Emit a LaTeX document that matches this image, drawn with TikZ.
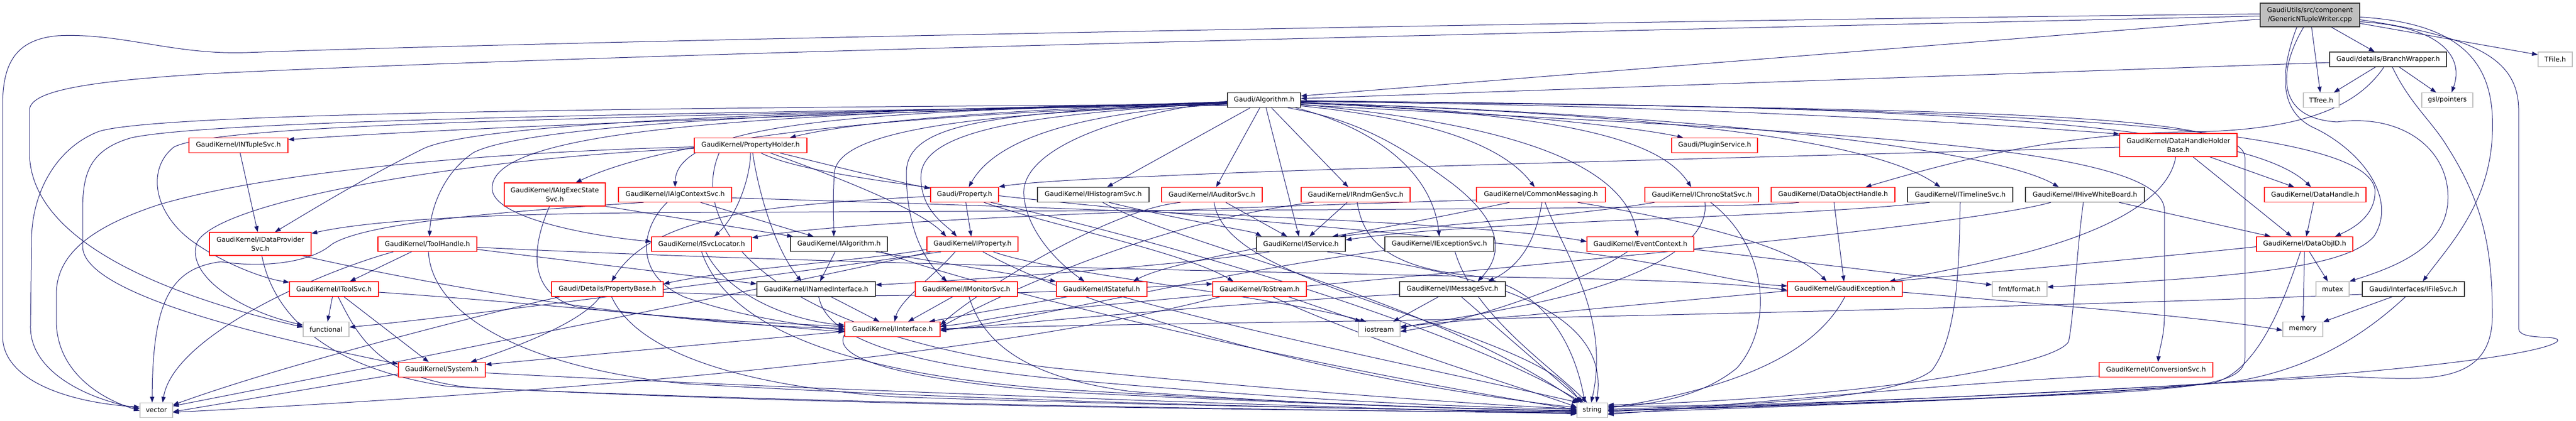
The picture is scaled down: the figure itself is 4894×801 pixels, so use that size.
\documentclass[tikz,border=0pt]{standalone}
\usepackage{fontspec}
\usetikzlibrary{arrows.meta}
\newfontfamily\nf{DejaVu Sans}
\newcommand{\nfont}{\nf\fontsize{12.6bp}{17.4bp}\selectfont}
\definecolor{ecol}{HTML}{191970}
\definecolor{rcol}{HTML}{FF0000}
\definecolor{gcol}{HTML}{BFBFBF}
\definecolor{kcol}{HTML}{333333}
\pgfdeclarelayer{paper}
\pgfdeclarelayer{edges}
\pgfsetlayers{paper,edges,main}
\tikzset{
  nb/.style={draw=kcol, fill=white, line width=1.2bp, inner sep=0pt, minimum height=28bp, font=\nfont, align=center},
  nr/.style={nb, draw=rcol},
  ng/.style={nb, draw=gcol},
  edg/.style={draw=ecol, line width=1bp, -{Triangle[length=11bp,width=8bp]}, fill=none},
}
\begin{document}
\begin{tikzpicture}[x=1bp,y=1bp]
\useasboundingbox (0,0) rectangle (4894,-801);
\begin{pgfonlayer}{paper}
\fill[white] (0,0) rectangle (4894,-801);
\end{pgfonlayer}
% ---------- nodes ----------
\node[nb, fill=gcol, minimum width=189bp, minimum height=45bp] (top) at (4388.5,-28.5) {GaudiUtils/src/component\\/GenericNTupleWriter.cpp};
\node[nb, minimum width=222bp] (bw) at (4537,-113) {Gaudi/details/BranchWrapper.h};
\node[ng, minimum width=65bp] (tfile) at (4854.5,-113) {TFile.h};
\node[nb, minimum width=139bp] (alg) at (2401.5,-190.5) {Gaudi/Algorithm.h};
\node[ng, minimum width=68bp] (ttree) at (4410,-190.5) {TTree.h};
\node[ng, minimum width=97bp] (gsl) at (4649.5,-190.5) {gsl/pointers};
\node[nr, minimum width=188bp] (ntuple) at (453,-276.5) {GaudiKernel/INTupleSvc.h};
\node[nr, minimum width=214bp] (pholder) at (1426,-276.5) {GaudiKernel/PropertyHolder.h};
\node[nr, minimum width=163bp] (plugin) at (3257.5,-276.5) {Gaudi/PluginService.h};
\node[nr, minimum width=223bp, minimum height=44bp] (dhhb) at (4138.5,-276) {GaudiKernel/DataHandleHolder\\Base.h};
\node[nr, minimum width=192bp, minimum height=44bp] (execstate) at (1054,-370) {GaudiKernel/IAlgExecState\\Svc.h};
\node[nr, minimum width=215bp] (ctxsvc) at (1282.5,-370.5) {GaudiKernel/IAlgContextSvc.h};
\node[nr, minimum width=129bp] (prop) at (1832.5,-370.5) {Gaudi/Property.h};
\node[nb, minimum width=212bp] (histo) at (2077,-370.5) {GaudiKernel/IHistogramSvc.h};
\node[nr, minimum width=191bp] (auditor) at (2302.5,-370.5) {GaudiKernel/IAuditorSvc.h};
\node[nr, minimum width=207bp] (rndm) at (2575.5,-370.5) {GaudiKernel/IRndmGenSvc.h};
\node[nr, minimum width=245bp] (commsg) at (2927.5,-370.5) {GaudiKernel/CommonMessaging.h};
\node[nr, minimum width=216bp] (chrono) at (3233,-370.5) {GaudiKernel/IChronoStatSvc.h};
\node[nr, minimum width=235bp] (doh) at (3482.5,-370.5) {GaudiKernel/DataObjectHandle.h};
\node[nb, minimum width=200bp] (timeline) at (3724,-370.5) {GaudiKernel/ITimelineSvc.h};
\node[nb, minimum width=226bp] (hive) at (3961,-370.5) {GaudiKernel/IHiveWhiteBoard.h};
\node[nr, minimum width=193bp] (dhandle) at (4398.5,-370.5) {GaudiKernel/DataHandle.h};
\node[nr, minimum width=193bp, minimum height=44bp] (dataprov) at (494.5,-464) {GaudiKernel/IDataProvider\\Svc.h};
\node[nr, minimum width=188bp] (toolhandle) at (812,-464.5) {GaudiKernel/ToolHandle.h};
\node[nr, minimum width=190bp] (svcloc) at (1333,-464.5) {GaudiKernel/ISvcLocator.h};
\node[nb, minimum width=184bp] (ialg) at (1594,-464.5) {GaudiKernel/IAlgorithm.h};
\node[nr, minimum width=173bp] (iprop) at (1847.5,-464.5) {GaudiKernel/IProperty.h};
\node[nb, minimum width=169bp] (iservice) at (2471.5,-464.5) {GaudiKernel/IService.h};
\node[nb, minimum width=207bp] (excsvc) at (2734.5,-464.5) {GaudiKernel/IExceptionSvc.h};
\node[nr, minimum width=203bp] (evctx) at (3116.5,-464.5) {GaudiKernel/EventContext.h};
\node[nr, minimum width=183bp] (dataobjid) at (4378.5,-464.5) {GaudiKernel/DataObjID.h};
\node[nr, minimum width=169bp] (toolsvc) at (634.5,-550) {GaudiKernel/IToolSvc.h};
\node[nr, minimum width=212bp] (propbase) at (1154,-550) {Gaudi/Details/PropertyBase.h};
\node[nb, minimum width=225bp] (inamed) at (1550.5,-550) {GaudiKernel/INamedInterface.h};
\node[nr, minimum width=194bp] (monitor) at (1836,-550) {GaudiKernel/IMonitorSvc.h};
\node[nr, minimum width=172bp] (stateful) at (2093,-550) {GaudiKernel/IStateful.h};
\node[nr, minimum width=178bp] (tostream) at (2393,-550) {GaudiKernel/ToStream.h};
\node[nb, minimum width=201bp] (msgsvc) at (2759.5,-550) {GaudiKernel/IMessageSvc.h};
\node[nr, minimum width=218bp] (gexc) at (3505,-550) {GaudiKernel/GaudiException.h};
\node[ng, minimum width=104bp] (fmt) at (3837,-550) {fmt/format.h};
\node[ng, minimum width=63bp] (mutex) at (4431.5,-550) {mutex};
\node[nb, minimum width=194bp] (ifilesvc) at (4585,-550) {Gaudi/Interfaces/IFileSvc.h};
\node[ng, minimum width=87bp] (functional) at (619.5,-626.5) {functional};
\node[nr, minimum width=181bp] (iinterface) at (1695.5,-626.5) {GaudiKernel/IInterface.h};
\node[ng, minimum width=79bp] (iostream) at (2620.5,-626.5) {iostream};
\node[ng, minimum width=76bp] (memory) at (4375,-626.5) {memory};
\node[nr, minimum width=165bp] (system) at (839.5,-703.5) {GaudiKernel/System.h};
\node[nr, minimum width=216bp] (convsvc) at (4096,-703.5) {GaudiKernel/IConversionSvc.h};
\node[ng, minimum width=62bp] (vector) at (297,-780.5) {vector};
\node[ng, minimum width=58bp] (string) at (3025,-780.5) {string};
\begin{pgfonlayer}{edges}
% ---------- edges from top ----------
\draw[edg] ([yshift=-8]top.west) -- ([yshift=8]alg.east);
\draw[edg] (top) -- (bw);
\draw[edg] (top) -- (ttree);
\draw[edg] ([yshift=-13]top.east) .. controls (4640,-50) and (4682,-110) .. ([xshift=8]gsl.north);
\draw[edg] ([yshift=-16]top.east) -- ([yshift=9]tfile.west);
\draw[edg] ([yshift=-4]top.east) .. controls (4700,-45) and (4740,-140) .. (4735,-255) .. controls (4730,-390) and (4650,-470) .. ([xshift=18]ifilesvc.north);
\draw[edg] ([xshift=-12]top.south) .. controls (4330,-130) and (4320,-225) .. (4440,-232) .. controls (4570,-215) and (4660,-290) .. (4650,-390) .. controls (4640,-470) and (4560,-505) .. (mutex.north east);
\draw[edg] ([xshift=-25]top.south) .. controls (4330,-140) and (4330,-215) .. (4400,-245) .. controls (4490,-290) and (4555,-380) .. (4510,-450) .. controls (4460,-505) and (4300,-525) .. ([yshift=4]fmt.east);
\draw[edg] ([yshift=-9]top.east) .. controls (4700,-70) and (4785,-110) .. (4785,-210) -- (4785,-625) .. controls (4785,-650) and (4870,-635) .. (4858,-650) .. controls (4820,-680) and (4400,-740) .. ([yshift=2]string.east);
\draw[edg] ([yshift=2]top.west) .. controls (3000,-40) and (1000,-80) .. (470,-100) .. controls (330,-105) and (230,-62) .. (110,-68) .. controls (30,-75) and (5,-120) .. (5,-200) -- (5,-640) .. controls (5,-720) and (120,-765) .. ([yshift=6]vector.west);
\draw[edg] ([yshift=-2]top.west) .. controls (3000,-60) and (1200,-100) .. (400,-140) .. controls (150,-155) and (56,-175) .. (56,-210) -- (56,-290) .. controls (56,-470) and (350,-570) .. ([yshift=4]functional.west);
% ---------- edges from BranchWrapper ----------
\draw[edg] ([yshift=-6]bw.west) -- ([yshift=3]alg.east);
\draw[edg] (bw) -- (ttree);
\draw[edg] (bw) -- (gsl);
\draw[edg] ([xshift=-8]bw.south) .. controls (4480,-200) and (4380,-250) .. (4150,-251) .. controls (3900,-255) and (3700,-310) .. ([xshift=62]doh.north);
\draw[edg] ([xshift=8]bw.south) .. controls (4580,-200) and (4620,-230) .. (4650,-280) .. controls (4720,-390) and (4735,-480) .. (4735,-600) .. controls (4735,-740) and (4600,-722) .. (4450,-716) .. controls (4200,-730) and (3500,-770) .. (string.east);
% ---------- edges from Algorithm ----------
\draw[edg] ([yshift=-3]alg.west) .. controls (1700,-215) and (1000,-235) .. ([yshift=11]ntuple.east);
\draw[edg] ([yshift=-5]alg.west) .. controls (2000,-205) and (1650,-225) .. ([xshift=75]pholder.north);
\draw[edg] ([yshift=-7]alg.west) .. controls (1800,-215) and (1300,-250) .. ([xshift=40]execstate.north);
\draw[edg] ([yshift=-6]alg.west) .. controls (1700,-210) and (1285,-225) .. (ctxsvc.north);
\draw[edg] ([yshift=-8]alg.west) .. controls (2100,-210) and (1900,-250) .. ([xshift=8]prop.north);
\draw[edg] (alg) -- (histo);
\draw[edg] (alg) -- (auditor);
\draw[edg] (alg) -- (rndm);
\draw[edg] (alg) -- (iservice);
\draw[edg] ([xshift=45]alg.south) .. controls (2560,-225) and (2640,-260) .. (2760,-350) .. controls (2850,-420) and (2860,-480) .. ([xshift=48]msgsvc.north);
\draw[edg] ([xshift=60]alg.south) .. controls (2600,-240) and (2720,-320) .. (excsvc.north);
\draw[edg] ([yshift=-11]alg.east) .. controls (2700,-225) and (2850,-270) .. ([xshift=-12]commsg.north);
\draw[edg] ([yshift=-8]alg.east) .. controls (2800,-230) and (3080,-290) .. ([xshift=-5]evctx.north);
\draw[edg] ([yshift=-6]alg.east) .. controls (2950,-215) and (3150,-260) .. ([xshift=-20]chrono.north);
\draw[edg] ([yshift=-4]alg.east) .. controls (2800,-210) and (3100,-240) .. ([xshift=-60]plugin.north);
\draw[edg] ([yshift=-5]alg.east) .. controls (3100,-215) and (3550,-260) .. ([xshift=-38]timeline.north);
\draw[edg] ([yshift=-5]alg.east) .. controls (3300,-220) and (3800,-290) .. ([xshift=-50]hive.north);
\draw[edg] ([yshift=-3]alg.east) .. controls (3300,-200) and (3900,-245) .. ([yshift=21]dhhb.west);
\draw[edg] ([yshift=-2]alg.east) .. controls (3500,-200) and (4250,-220) .. ([xshift=-8]dhandle.north);
\draw[edg] ([yshift=-1]alg.east) .. controls (3600,-205) and (4490,-220) .. (4512,-360) .. controls (4515,-410) and (4470,-435) .. ([xshift=58]dataobjid.north);
\draw[edg] ([yshift=-9]alg.east) .. controls (3400,-250) and (4112,-270) .. (4112,-400) -- (4112,-600) .. controls (4112,-640) and (4102,-665) .. ([xshift=4]convsvc.north);
\draw[edg] ([yshift=-1]alg.east) .. controls (3700,-210) and (4265,-210) .. (4265,-300) -- (4265,-680) .. controls (4265,-725) and (4200,-735) .. (4000,-748) .. controls (3500,-770) and (3200,-775) .. ([yshift=-3]string.east);
\draw[edg] ([yshift=-8]alg.west) .. controls (1200,-205) and (300,-215) .. (188,-250) .. controls (110,-280) and (63,-360) .. (60,-450) -- (58,-620) .. controls (56,-700) and (150,-755) .. ([yshift=3]vector.west);
\draw[edg] ([yshift=-10]alg.west) .. controls (1200,-215) and (400,-230) .. (250,-262) .. controls (170,-285) and (157,-330) .. (157,-400) -- (157,-470) .. controls (160,-560) and (500,-640) .. ([yshift=11]system.west);
\draw[edg] ([yshift=-4]alg.west) .. controls (1200,-225) and (420,-232) .. (330,-280) .. controls (280,-320) and (290,-400) .. (360,-455) .. controls (420,-500) and (500,-530) .. ([yshift=13]toolsvc.west);
\draw[edg] ([yshift=-6]alg.west) .. controls (1600,-210) and (900,-230) .. (800,-285) .. controls (690,-340) and (600,-395) .. ([xshift=28]dataprov.north);
\draw[edg] ([yshift=-5]alg.west) .. controls (1500,-210) and (1000,-240) .. (900,-290) .. controls (840,-330) and (818,-400) .. ([xshift=4]toolhandle.north);
\draw[edg] ([yshift=-6]alg.west) .. controls (1300,-215) and (930,-260) .. (935,-360) .. controls (940,-420) and (1150,-452) .. ([yshift=5]svcloc.west);
\draw[edg] ([yshift=-7]alg.west) .. controls (1900,-215) and (1590,-240) .. (1585,-330) .. controls (1582,-380) and (1584,-420) .. ([xshift=-10]ialg.north);
\draw[edg] ([yshift=-5]alg.west) .. controls (2000,-215) and (1760,-240) .. (1750,-330) .. controls (1745,-400) and (1800,-430) .. ([xshift=-30]iprop.north);
\draw[edg] ([yshift=-4]alg.west) .. controls (1900,-215) and (1720,-230) .. (1722,-330) .. controls (1722,-440) and (1760,-500) .. ([xshift=-37]monitor.north);
\draw[edg] ([yshift=-2]alg.west) .. controls (2100,-220) and (1940,-290) .. (1945,-370) .. controls (1950,-440) and (2010,-500) .. ([xshift=-33]stateful.north);
% ---------- PropertyHolder ----------
\draw[edg] ([yshift=-3]pholder.west) .. controls (900,-290) and (500,-330) .. (300,-390) .. controls (180,-430) and (107,-480) .. (107,-560) -- (107,-610) .. controls (107,-700) and (180,-755) .. ([yshift=-1]vector.west);
\draw[edg] ([yshift=-6]pholder.west) .. controls (900,-300) and (420,-380) .. (375,-460) .. controls (350,-520) and (450,-590) .. ([yshift=8]functional.west);
\draw[edg] (pholder.south) .. controls (1425,-340) and (1400,-410) .. ([xshift=24]svcloc.north);
\draw[edg] ([xshift=4]pholder.south) .. controls (1440,-360) and (1470,-470) .. ([xshift=-28]inamed.north);
\draw[edg] ([xshift=56]pholder.south) .. controls (1600,-320) and (1700,-345) .. ([yshift=12]prop.west);
\draw[edg] ([xshift=38]pholder.south) .. controls (1600,-340) and (1750,-400) .. ([xshift=-50]iprop.north);
\draw[edg] ([xshift=20]pholder.south) .. controls (1600,-370) and (2500,-420) .. (3000,-480) .. controls (3200,-505) and (3300,-540) .. ([yshift=6]gexc.west);
\draw[edg] ([xshift=-60]pholder.south) .. controls (1300,-450) and (1500,-640) .. (2000,-700) .. controls (2500,-750) and (2900,-775) .. ([yshift=3]string.west);
% ---------- IAlgExecStateSvc / IAlgContextSvc ----------
\draw[edg] (execstate.south east) -- ([xshift=-88]ialg.north);
\draw[edg] ([xshift=-10]execstate.south) .. controls (1010,-470) and (1000,-560) .. (1100,-585) .. controls (1300,-610) and (1500,-615) .. ([yshift=5]iinterface.west);
\draw[edg] (ctxsvc) -- (ialg);
\draw[edg] ([xshift=-15]ctxsvc.south) .. controls (1220,-430) and (1200,-520) .. (1300,-565) .. controls (1400,-600) and (1500,-615) .. ([yshift=-2]iinterface.west);
\draw[edg] ([xshift=-60]ctxsvc.south) .. controls (1000,-400) and (700,-420) .. (630,-465) .. controls (590,-500) and (500,-510) .. (420,-498) .. controls (320,-510) and (290,-580) .. ([xshift=-8]vector.north);
\draw[edg] ([yshift=-6]ctxsvc.east) .. controls (2000,-395) and (2800,-420) .. ([yshift=5]evctx.west);
% ---------- Property ----------
\draw[edg] (prop) -- (iprop);
\draw[edg] ([yshift=-3]prop.west) .. controls (1450,-390) and (1240,-410) .. ([xshift=8]propbase.north);
\draw[edg] ([xshift=37]prop.south) .. controls (2000,-430) and (2250,-480) .. ([xshift=-50]tostream.north);
\draw[edg] ([xshift=50]prop.south) .. controls (2300,-480) and (2800,-640) .. ([xshift=-20]string.north);
% ---------- services row ----------
\draw[edg] ([xshift=30]histo.south) .. controls (2250,-420) and (2380,-440) .. ([xshift=-75]iservice.north);
\draw[edg] ([xshift=18]histo.south) .. controls (2250,-470) and (2700,-560) .. ([xshift=-25]string.north);
\draw[edg] (auditor) -- (iservice);
\draw[edg] ([xshift=4]auditor.south) .. controls (2320,-470) and (2450,-520) .. (2650,-590) .. controls (2850,-660) and (2960,-700) .. ([xshift=-22]string.north);
\draw[edg] ([xshift=-60]auditor.south) .. controls (2100,-400) and (1850,-560) .. ([yshift=8]iinterface.east);
\draw[edg] (rndm) -- (iservice);
\draw[edg] ([xshift=3]rndm.south) .. controls (2590,-460) and (2640,-510) .. (2800,-525) .. controls (2930,-545) and (2990,-650) .. ([xshift=-14]string.north);
\draw[edg] ([xshift=-80]rndm.south) .. controls (2200,-420) and (1900,-560) .. ([yshift=4]iinterface.east);
\draw[edg] ([xshift=2]commsg.south) .. controls (2920,-440) and (2900,-500) .. ([xshift=68]msgsvc.north);
\draw[edg] ([xshift=8]commsg.south) .. controls (2970,-480) and (3060,-600) .. ([xshift=-2]string.north);
\draw[edg] ([xshift=-60]commsg.south) .. controls (2750,-410) and (2620,-435) .. ([xshift=60]iservice.north);
\draw[edg] ([yshift=-10]commsg.west) .. controls (2200,-400) and (1600,-420) .. ([yshift=12]svcloc.east);
\draw[edg] ([xshift=70]commsg.south) .. controls (3150,-410) and (3400,-460) .. ([xshift=-35]gexc.north);
\draw[edg] ([xshift=-90]chrono.south) .. controls (3000,-410) and (2700,-430) .. ([xshift=75]iservice.north);
\draw[edg] ([xshift=17]chrono.south) .. controls (3360,-470) and (3370,-620) .. (3300,-700) .. controls (3240,-750) and (3150,-770) .. ([yshift=6]string.east);
\draw[edg] ([xshift=6]chrono.south) .. controls (3250,-470) and (3100,-540) .. (2900,-580) .. controls (2780,-605) and (2700,-615) .. ([yshift=2]iostream.east);
\draw[edg] ([xshift=-65]doh.south) .. controls (3300,-400) and (2000,-400) .. (1200,-405) .. controls (900,-408) and (700,-420) .. ([yshift=20]dataprov.east);
\draw[edg] (doh) -- (gexc);
\draw[edg] ([xshift=-58]timeline.south) .. controls (3400,-415) and (2800,-420) .. ([yshift=8]iservice.east);
\draw[edg] (timeline.south) .. controls (3722,-500) and (3720,-640) .. (3670,-705) .. controls (3600,-760) and (3300,-775) .. ([yshift=8]string.east);
\draw[edg] (hive) -- (dataobjid);
\draw[edg] ([xshift=-3]hive.south) .. controls (3945,-480) and (3940,-600) .. (3930,-650) .. controls (3900,-700) and (3500,-760) .. ([yshift=10]string.east);
\draw[edg] ([xshift=-65]hive.south) .. controls (3700,-440) and (2500,-540) .. (2000,-590) .. controls (1900,-600) and (1850,-615) .. ([yshift=6]iinterface.east);
\draw[edg] (dhhb) -- ([xshift=-25]dataobjid.north);
\draw[edg] ([xshift=60]dhhb.south) -- ([xshift=-40]dhandle.north);
\draw[edg] ([xshift=-5]dhhb.south) .. controls (4120,-380) and (4000,-440) .. (3850,-480) .. controls (3720,-512) and (3640,-525) .. ([xshift=85]gexc.north);
\draw[edg] ([yshift=-4]dhhb.west) .. controls (3500,-295) and (2500,-320) .. (2200,-335) .. controls (2000,-343) and (1930,-350) .. ([yshift=15]prop.east);
\draw[edg] (dhandle) -- (dataobjid);
% ---------- DataObjID / IFileSvc ----------
\draw[edg] (dataobjid) -- (mutex);
\draw[edg] (dataobjid) -- (memory);
\draw[edg] ([yshift=-5]dataobjid.west) .. controls (4000,-500) and (3200,-570) .. (2900,-600) .. controls (2750,-612) and (2700,-618) .. ([yshift=5]iostream.east);
\draw[edg] ([xshift=-8]dataobjid.south) .. controls (4340,-570) and (4290,-710) .. (4200,-730) .. controls (3900,-760) and (3300,-775) .. ([yshift=-6]string.east);
\draw[edg] (ifilesvc) -- (memory);
\draw[edg] ([xshift=-15]ifilesvc.south) .. controls (4500,-630) and (4400,-700) .. (4250,-725) .. controls (3900,-760) and (3300,-775) .. ([yshift=-1]string.east);
\draw[edg] ([yshift=-10]ifilesvc.west) .. controls (4000,-580) and (3000,-605) .. (2500,-612) .. controls (2100,-618) and (1900,-622) .. ([yshift=1]iinterface.east);
% ---------- ToolHandle / IToolSvc ----------
\draw[edg] (toolhandle) -- (toolsvc);
\draw[edg] ([yshift=-10]toolhandle.east) -- ([yshift=10]inamed.west);
\draw[edg] ([yshift=-6]toolhandle.east) .. controls (1500,-500) and (2500,-520) .. (3000,-530) .. controls (3200,-535) and (3300,-540) .. ([yshift=-2]gexc.west);
\draw[edg] ([xshift=-65]toolhandle.south) .. controls (600,-520) and (330,-640) .. ([xshift=12]vector.north);
\draw[edg] ([xshift=2]toolhandle.south) .. controls (820,-600) and (1000,-700) .. (1300,-730) .. controls (2000,-770) and (2700,-780) .. ([yshift=-3]string.west);
\draw[edg] (toolsvc) -- (functional);
\draw[edg] (toolsvc) -- ([xshift=-25]system.north);
\draw[edg] ([yshift=-6]toolsvc.east) .. controls (1000,-575) and (1400,-615) .. ([yshift=-5]iinterface.west);
\draw[edg] ([xshift=8]toolsvc.south) .. controls (680,-640) and (720,-720) .. (900,-738) .. controls (1600,-770) and (2500,-780) .. ([yshift=-6]string.west);
% ---------- ISvcLocator / IAlgorithm / IProperty ----------
\draw[edg] ([xshift=8]svcloc.south) .. controls (1380,-560) and (1500,-610) .. ([yshift=8]iinterface.west);
\draw[edg] (svcloc.south) .. controls (1380,-620) and (1600,-710) .. (2000,-740) .. controls (2500,-770) and (2800,-778) .. ([yshift=-1]string.west);
\draw[edg] (ialg) -- (inamed);
\draw[edg] ([xshift=70]ialg.south) -- (stateful.north west);
\draw[edg] ([xshift=80]ialg.south) .. controls (1900,-560) and (2500,-700) .. ([yshift=1]string.west);
\draw[edg] ([xshift=-33]iprop.south) .. controls (1780,-520) and (1710,-570) .. ([xshift=4]iinterface.north);
\draw[edg] ([yshift=-10]iprop.west) .. controls (1650,-495) and (1400,-510) .. ([yshift=10]propbase.east);
\draw[edg] ([xshift=20]iprop.south) .. controls (2050,-580) and (2500,-720) .. ([yshift=5]string.west);
\draw[edg] ([xshift=-80]iprop.south) .. controls (1500,-540) and (700,-700) .. ([yshift=8]vector.east);
\draw[edg] ([xshift=-60]iprop.south) .. controls (1500,-520) and (900,-600) .. ([yshift=4]functional.east);
\draw[edg] ([xshift=40]iprop.south) .. controls (2000,-520) and (2400,-560) .. ([xshift=-25]iostream.north);
% ---------- row 7 ----------
\draw[edg] (inamed) -- ([xshift=-25]iinterface.north);
\draw[edg] ([xshift=5]inamed.south) .. controls (1570,-640) and (1700,-690) .. (2000,-720) .. controls (2500,-765) and (2800,-775) .. ([yshift=2]string.west);
\draw[edg] ([xshift=-14]propbase.south) .. controls (1100,-620) and (950,-670) .. ([xshift=55]system.north);
\draw[edg] ([yshift=-6]propbase.east) .. controls (1700,-575) and (2100,-550) .. ([yshift=10]tostream.west);
\draw[edg] ([xshift=8]propbase.south) .. controls (1200,-650) and (1350,-730) .. (1700,-755) .. controls (2300,-775) and (2800,-780) .. ([yshift=-4]string.west);
\draw[edg] ([xshift=-90]propbase.south) .. controls (950,-590) and (550,-690) .. ([yshift=10]vector.east);
\draw[edg] (monitor) -- ([xshift=30]iinterface.north);
\draw[edg] ([xshift=5]monitor.south) .. controls (1870,-660) and (1960,-720) .. (2150,-745) .. controls (2500,-770) and (2800,-780) .. (string.west);
\draw[edg] ([xshift=-65]stateful.south) -- ([xshift=70]iinterface.north);
\draw[edg] ([xshift=40]stateful.south) .. controls (2400,-640) and (2800,-720) .. ([xshift=-27]string.north);
\draw[edg] ([xshift=55]tostream.south) -- ([xshift=-35]iostream.north);
\draw[edg] ([xshift=25]tostream.south) .. controls (2600,-650) and (2900,-740) .. ([yshift=6]string.west);
\draw[edg] ([xshift=-75]tostream.south) .. controls (1800,-700) and (800,-760) .. ([yshift=-4]vector.east);
\draw[edg] (msgsvc) -- (iostream);
\draw[edg] (msgsvc) -- (string);
\draw[edg] ([yshift=-10]msgsvc.west) .. controls (2300,-580) and (2000,-610) .. ([yshift=-1]iinterface.east);
\draw[edg] ([yshift=-10]evctx.east) -- ([yshift=8]fmt.west);
\draw[edg] ([xshift=-25]evctx.south) .. controls (3000,-540) and (2800,-610) .. ([yshift=-4]iostream.east);
\draw[edg] ([yshift=-12]excsvc.west) .. controls (2300,-520) and (2000,-600) .. ([yshift=-3]iinterface.east);
\draw[edg] ([xshift=30]excsvc.south) .. controls (2800,-600) and (2950,-700) .. ([xshift=-10]string.north);
\draw[edg] ([xshift=-60]iservice.south) .. controls (2200,-510) and (1800,-535) .. ([yshift=8]inamed.east);
\draw[edg] ([yshift=-8]iservice.west) .. controls (2300,-490) and (2200,-510) .. ([xshift=60]stateful.north);
\draw[edg] ([xshift=50]iservice.south) .. controls (2800,-520) and (3060,-580) .. ([xshift=8]string.north);
\draw[edg] (gexc.south) .. controls (3460,-650) and (3350,-730) .. ([yshift=4]string.east);
\draw[edg] ([yshift=-6]gexc.east) .. controls (3900,-580) and (4200,-605) .. ([yshift=-2]memory.west);
% ---------- bottom ----------
\draw[edg] ([yshift=-8]system.west) -- ([yshift=-3]vector.east);
\draw[edg] ([yshift=-6]system.east) .. controls (1500,-740) and (2500,-775) .. ([yshift=-7]string.west);
\draw[edg] ([yshift=-4]iinterface.west) -- ([yshift=10]system.east);
\draw[edg] ([yshift=-10]iinterface.west) .. controls (1580,-680) and (1700,-720) .. (2000,-745) .. controls (2500,-770) and (2800,-778) .. ([yshift=-2]string.west);
\draw[edg] ([yshift=-12]convsvc.west) .. controls (3700,-730) and (3300,-770) .. ([yshift=-8]string.east);
\draw[edg] (ntuple) -- (dataprov);
\draw[edg] ([xshift=80]dataprov.south) .. controls (900,-560) and (1300,-620) .. ([yshift=2]iinterface.west);
\draw[edg] ([xshift=3]dataprov.south) .. controls (520,-600) and (620,-700) .. (850,-735) .. controls (1600,-775) and (2500,-780) .. ([yshift=-5]string.west);
\end{pgfonlayer}
\end{tikzpicture}
\end{document}
